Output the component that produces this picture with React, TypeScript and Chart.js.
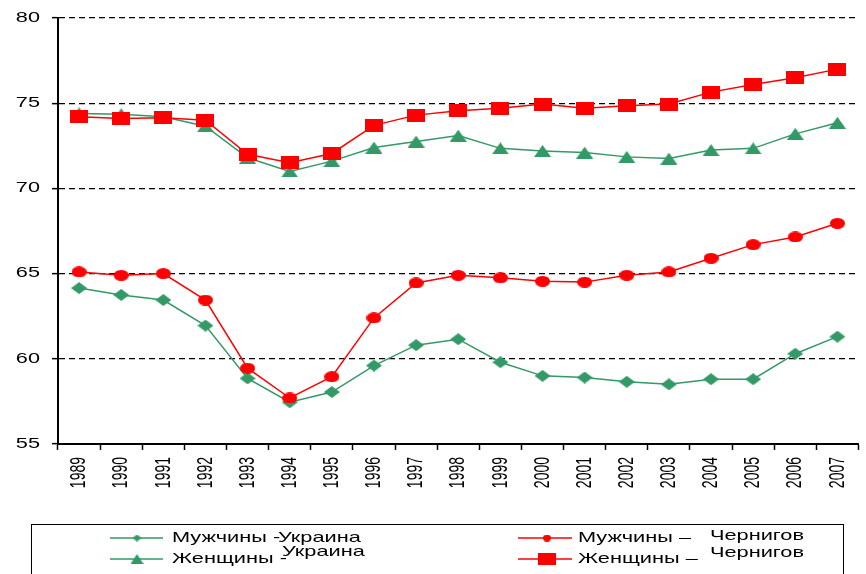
import React, { useEffect, useRef } from 'react';
import { Chart, registerables } from 'chart.js';

Chart.register(...registerables);

const YEARS = ['1989', '1990', '1991', '1992', '1993', '1994', '1995', '1996', '1997', '1998', '1999', '2000', '2001', '2002', '2003', '2004', '2005', '2006', '2007'];
const MEN_UA = [64.15, 63.75, 63.45, 61.95, 58.85, 57.45, 58.05, 59.6, 60.8, 61.15, 59.8, 59.0, 58.9, 58.65, 58.5, 58.8, 58.8, 60.3, 61.3];
const MEN_CH = [65.1, 64.9, 65.0, 63.45, 59.45, 57.7, 58.95, 62.4, 64.45, 64.9, 64.75, 64.55, 64.5, 64.9, 65.1, 65.9, 66.7, 67.15, 67.95];
const WOMEN_UA = [74.4, 74.35, 74.2, 73.65, 71.8, 71.0, 71.6, 72.4, 72.75, 73.1, 72.35, 72.2, 72.1, 71.85, 71.75, 72.25, 72.35, 73.2, 73.85];
const WOMEN_CH = [74.2, 74.1, 74.15, 74.0, 72.0, 71.5, 72.05, 73.7, 74.3, 74.55, 74.7, 74.95, 74.7, 74.85, 74.95, 75.65, 76.1, 76.5, 77.0];
const Y_TICKS = [55, 60, 65, 70, 75, 80];

const LEGEND_MEN_UA = ['Мужчины -', 'Украина'];
const LEGEND_WOMEN_UA = ['Женщины -', 'Украина'];
const LEGEND_MEN_CH = ['Мужчины –', 'Чернигов'];
const LEGEND_WOMEN_CH = ['Женщины –', 'Чернигов'];

const GREEN = '#339966';
const RED = '#FF0000';
const FONT = '"Liberation Sans", Arial, sans-serif';
const STRETCH = 1.45;

function makeMarker(kind: string, w: number, h: number, color: string): HTMLCanvasElement {
  const c = document.createElement('canvas');
  c.width = w;
  c.height = h;
  const g = c.getContext('2d')!;
  g.fillStyle = color;
  g.beginPath();
  if (kind === 'square') {
    g.rect(0, 0, w, h);
  } else if (kind === 'diamond') {
    g.moveTo(w / 2, 0);
    g.lineTo(w, h / 2);
    g.lineTo(w / 2, h);
    g.lineTo(0, h / 2);
    g.closePath();
  } else if (kind === 'triangle') {
    g.moveTo(w / 2, 0);
    g.lineTo(w, h);
    g.lineTo(0, h);
    g.closePath();
  } else {
    g.ellipse(w / 2, h / 2, w / 2, h / 2, 0, 0, Math.PI * 2);
  }
  g.fill();
  return c;
}

function stretchedText(ctx: CanvasRenderingContext2D, text: string, x: number, y: number, sx: number) {
  ctx.save();
  ctx.translate(x, y);
  ctx.scale(sx, 1);
  ctx.fillText(text, 0, 0);
  ctx.restore();
}

export default function App() {
  const ref = useRef<HTMLCanvasElement>(null);

  useEffect(() => {
    if (!ref.current) return;
    const mDiamond = makeMarker('diamond', 16, 12, GREEN);
    const mTriangle = makeMarker('triangle', 17, 12, GREEN);
    const mSquare = makeMarker('square', 18, 13, RED);
    const mCircle = makeMarker('circle', 15, 11, RED);
    const lDiamond = makeMarker('diamond', 9, 7, GREEN);
    const lTriangle = makeMarker('triangle', 13, 10, GREEN);
    const lSquare = makeMarker('square', 18, 12, RED);
    const lCircle = makeMarker('circle', 8, 7, RED);

    const labelsPlugin = {
      id: 'stretchedLabels',
      afterDraw(chart: any) {
        const ctx: CanvasRenderingContext2D = chart.ctx;
        const xs = chart.scales.x;
        const ys = chart.scales.y;
        ctx.save();
        ctx.fillStyle = '#000';
        // y tick labels
        ctx.font = `14px ${FONT}`;
        ctx.textAlign = 'right';
        ctx.textBaseline = 'middle';
        Y_TICKS.forEach((v) => {
          stretchedText(ctx, String(v), ys.left + 40, ys.getPixelForValue(v), 1.55);
        });
        // x tick labels (rotated)
        ctx.font = `14px ${FONT}`;
        YEARS.forEach((yr, i) => {
          const x = xs.getPixelForValue(i);
          ctx.save();
          ctx.translate(x, xs.top + 13);
          ctx.scale(1.6, 1);
          ctx.rotate(-Math.PI / 2);
          ctx.textAlign = 'right';
          ctx.textBaseline = 'middle';
          ctx.fillText(yr, 0, 0);
          ctx.restore();
        });

        // legend box
        ctx.strokeStyle = '#000';
        ctx.lineWidth = 1;
        ctx.strokeRect(31.5, 524.5, 812, 70);

        const items = [
          { color: GREEN, marker: lDiamond, lx: 110, rx: 163, mx: 137, y: 538, text: LEGEND_MEN_UA, tx: 172, t2x: 278, t2y: 538 },
          { color: GREEN, marker: lTriangle, lx: 110, rx: 163, mx: 137, y: 559, text: LEGEND_WOMEN_UA, tx: 172, t2x: 282, t2y: 552 },
          { color: RED, marker: lCircle, lx: 518, rx: 572, mx: 547, y: 538, text: LEGEND_MEN_CH, tx: 578, t2x: 710, t2y: 536 },
          { color: RED, marker: lSquare, lx: 518, rx: 572, mx: 547, y: 559, text: LEGEND_WOMEN_CH, tx: 578, t2x: 710, t2y: 553 },
        ];
        ctx.font = `15px ${FONT}`;
        ctx.textAlign = 'left';
        ctx.textBaseline = 'middle';
        items.forEach((it) => {
          ctx.strokeStyle = it.color;
          ctx.lineWidth = 1.5;
          ctx.beginPath();
          ctx.moveTo(it.lx, it.y);
          ctx.lineTo(it.rx, it.y);
          ctx.stroke();
          ctx.drawImage(it.marker, it.mx - it.marker.width / 2, it.y - it.marker.height / 2);
          ctx.fillStyle = '#000';
          stretchedText(ctx, it.text[0], it.tx, it.y, STRETCH);
          stretchedText(ctx, it.text[1], it.t2x, it.t2y, STRETCH);
        });
        ctx.restore();
      },
    };

    const chart = new Chart(ref.current, {
      type: 'line',
      data: {
        labels: YEARS,
        datasets: [
          {
            label: 'Женщины – Чернигов',
            data: WOMEN_CH,
            borderColor: RED,
            backgroundColor: RED,
            borderWidth: 1.5,
            pointStyle: mSquare as any,
            pointRadius: 6,
            tension: 0,
          },
          {
            label: 'Женщины - Украина',
            data: WOMEN_UA,
            borderColor: GREEN,
            backgroundColor: GREEN,
            borderWidth: 1.5,
            pointStyle: mTriangle as any,
            pointRadius: 6,
            tension: 0,
          },
          {
            label: 'Мужчины – Чернигов',
            data: MEN_CH,
            borderColor: RED,
            backgroundColor: RED,
            borderWidth: 1.5,
            pointStyle: mCircle as any,
            pointRadius: 6,
            tension: 0,
          },
          {
            label: 'Мужчины - Украина',
            data: MEN_UA,
            borderColor: GREEN,
            backgroundColor: GREEN,
            borderWidth: 1.5,
            pointStyle: mDiamond as any,
            pointRadius: 6,
            tension: 0,
          },
        ],
      },
      options: {
        responsive: false,
        animation: false,
        layout: { padding: { top: 18, left: 0, right: 1, bottom: 0 } },
        plugins: {
          legend: { display: false },
          tooltip: { enabled: false },
          title: { display: false },
        },
        scales: {
          x: {
            offset: true,
            ticks: { display: false },
            grid: {
              display: true,
              offset: true,
              drawOnChartArea: false,
              drawTicks: true,
              tickLength: 6,
              tickColor: '#000',
              tickWidth: 1.5,
            },
            border: { display: true, color: '#000', width: 2 },
            afterFit: (s: any) => {
              s.height = 130;
            },
          },
          y: {
            min: 55,
            max: 80,
            ticks: { display: false, stepSize: 5 },
            grid: {
              color: '#000',
              lineWidth: 1.3,
              tickColor: '#000',
              tickLength: 6,
              tickWidth: 1.5,
              tickBorderDash: [],
            },
            border: { display: true, color: '#000', width: 2, dash: [6, 4] },
            afterFit: (s: any) => {
              s.width = 58;
            },
          },
        },
      },
      plugins: [labelsPlugin],
    });

    return () => chart.destroy();
  }, []);

  return (
    <div style={{ position: 'fixed', left: 0, top: 0, width: 866, height: 574, background: '#fff' }}>
      <canvas ref={ref} width={866} height={574} />
    </div>
  );
}
